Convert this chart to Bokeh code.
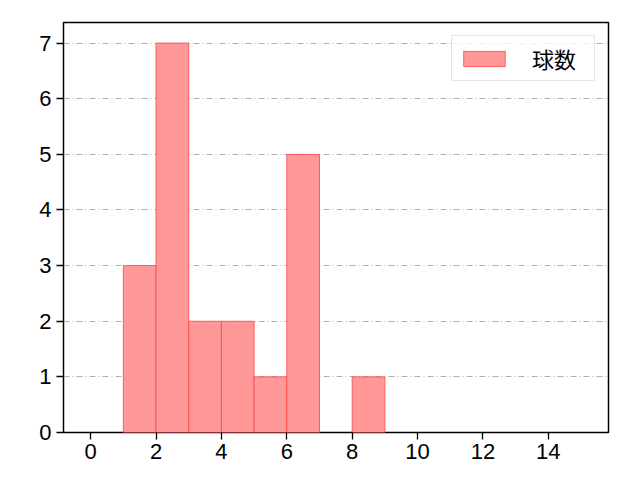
import numpy as np
from bokeh.plotting import figure
from bokeh.models import Range1d, FixedTicker, Legend, LegendItem
from bokeh.embed import file_html
from bokeh.resources import INLINE

# histogram of pitch counts
bin_edges = [1, 2, 3, 4, 5, 6, 7, 8, 9]
counts = [3, 7, 2, 2, 1, 5, 0, 1]
x_ticks = [0, 2, 4, 6, 8, 10, 12, 14]
y_ticks = [0, 1, 2, 3, 4, 5, 6, 7]
label = "球数"

p = figure(width=624, height=464, output_backend="svg", toolbar_location=None,
           x_range=Range1d(-0.83, 15.84), y_range=Range1d(0, 7.37),
           min_border_left=63, min_border_right=16, min_border_top=22,
           min_border_bottom=32)

left = np.array(bin_edges[:-1])
right = np.array(bin_edges[1:])
top = np.array(counts)
keep = top > 0
r = p.quad(left=left[keep], right=right[keep], bottom=0, top=top[keep],
           fill_color="#ff9999", fill_alpha=1.0,
           line_color="#ff4444", line_alpha=0.8, line_width=1)

p.xgrid.visible = False
p.ygrid.grid_line_color = "#b0b0b0"
p.ygrid.grid_line_dash = "6 3 1 3"
p.ygrid.grid_line_width = 1
p.outline_line_color = "black"
p.outline_line_width = 1.5
p.background_fill_color = "white"

for ax in (p.xaxis, p.yaxis):
    ax.major_label_text_font = "Liberation Sans"
    ax.major_label_text_font_size = "22px"
    ax.major_label_text_color = "black"
    ax.axis_line_color = None
    ax.major_tick_line_color = "black"
    ax.major_tick_line_width = 1.3
    ax.major_tick_out = 7
    ax.major_tick_in = 0
    ax.minor_tick_line_color = None
p.xaxis.ticker = FixedTicker(ticks=x_ticks)
p.yaxis.ticker = FixedTicker(ticks=y_ticks)
p.xaxis.major_label_standoff = 4
p.yaxis.major_label_standoff = 5

legend = Legend(items=[LegendItem(label=label, renderers=[r])],
                location="top_right")
legend.label_text_font = "Noto Sans CJK JP"
legend.label_text_font_size = "22px"
legend.label_text_color = "black"
legend.label_text_line_height = 1.0
legend.glyph_width = 52
legend.glyph_height = 19
legend.label_height = 22
legend.label_width = 56
legend.label_standoff = 22
legend.padding = 6
legend.margin = 13
legend.border_line_color = "#cccccc"
legend.border_line_width = 1
legend.background_fill_alpha = 0.8
p.add_layout(legend)

open("out.html", "w").write(file_html(p, INLINE))
